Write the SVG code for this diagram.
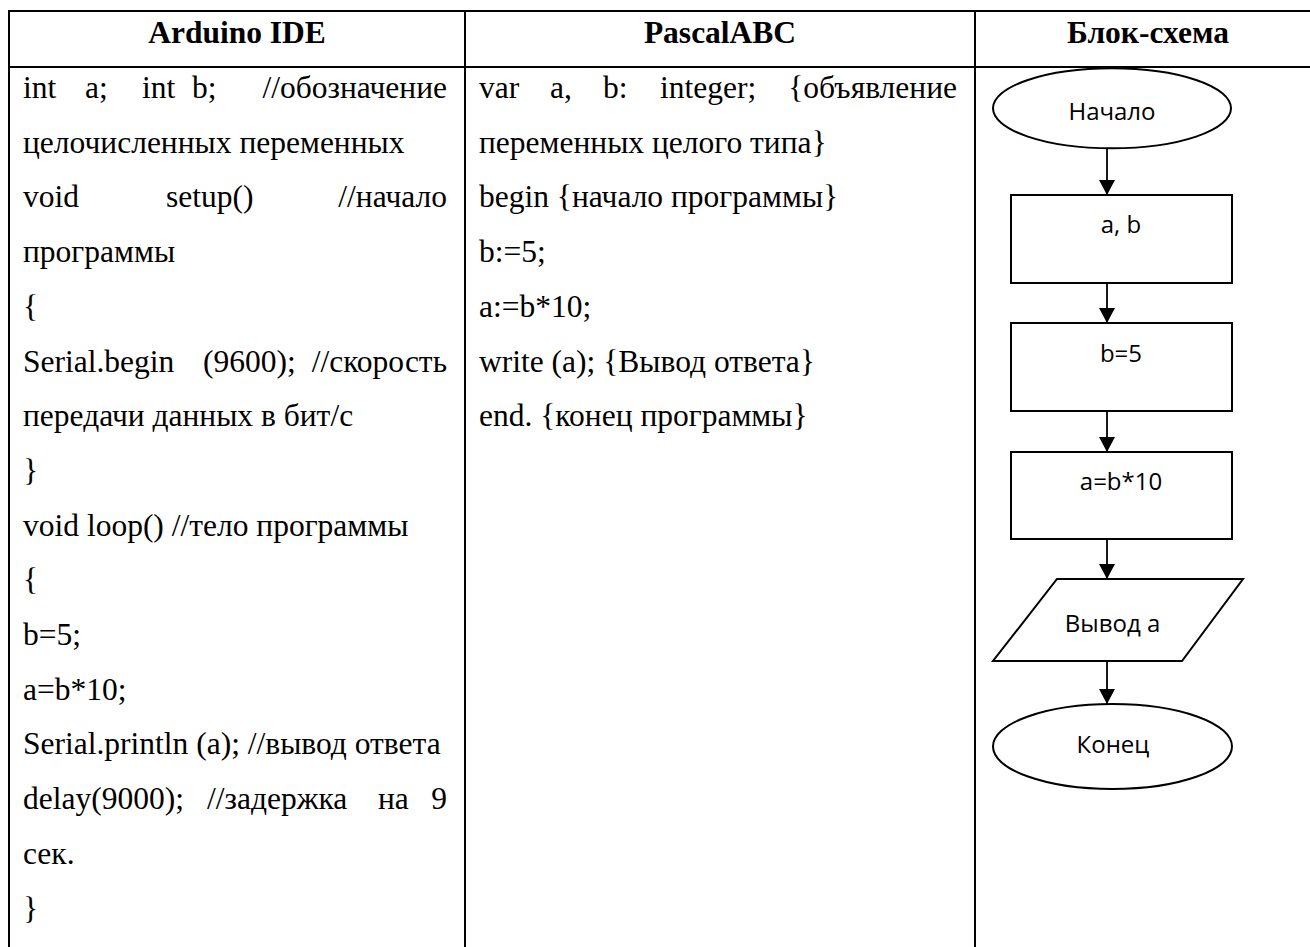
<svg xmlns="http://www.w3.org/2000/svg" width="1310" height="947" viewBox="0 0 1310 947">
<style>
.grid{stroke:#000;stroke-width:2;fill:none}
.code{font-family:"Liberation Serif","Times New Roman",serif;font-size:31.5px;fill:#000}
.head{font-family:"Liberation Serif","Times New Roman",serif;font-size:31.5px;font-weight:bold;fill:#000;text-anchor:middle}
.shape{fill:#fff;stroke:#000;stroke-width:2}
.lbl{font-family:"Open Sans","Noto Sans",sans-serif;font-size:24px;fill:#000;text-anchor:middle}
.conn{stroke:#000;stroke-width:1.8;fill:none;marker-end:url(#ah)}
.e{text-anchor:end}
</style>
<defs>
<marker id="ah" markerUnits="userSpaceOnUse" markerWidth="18" markerHeight="16" refX="15" refY="8" orient="auto">
<path d="M0,0 L15,8 L0,16 Z" fill="#000"/>
</marker>
</defs>
<rect width="1310" height="947" fill="#fff"/>
<g id="table">
<line class="grid" x1="9" y1="11" x2="1310" y2="11"/>
<line class="grid" x1="9" y1="67" x2="1310" y2="67"/>
<line class="grid" x1="9" y1="10" x2="9" y2="947"/>
<line class="grid" x1="465" y1="10" x2="465" y2="947"/>
<line class="grid" x1="975" y1="10" x2="975" y2="947"/>
<text class="head" x="237" y="43">Arduino IDE</text>
<text class="head" x="720" y="43">PascalABC</text>
<text class="head" x="1148" y="43">Блок-схема</text>
</g>
<g id="arduino-code" class="code">
<text y="98"><tspan x="23">int</tspan><tspan x="85">a;</tspan><tspan x="142">int</tspan><tspan x="192">b;</tspan></text>
<text class="e" x="447" y="98">//обозначение</text>
<text x="23" y="152.7">целочисленных переменных</text>
<text y="207.4"><tspan x="23">void</tspan><tspan x="166">setup()</tspan></text>
<text class="e" x="447" y="207.4">//начало</text>
<text x="23" y="262.1">программы</text>
<text x="23" y="316.8">{</text>
<text y="371.5"><tspan x="23">Serial.begin</tspan><tspan x="203">(9600);</tspan></text>
<text class="e" x="447" y="371.5">//скорость</text>
<text x="23" y="426.2">передачи данных в бит/с</text>
<text x="23" y="480.9">}</text>
<text x="23" y="535.6">void loop() //тело программы</text>
<text x="23" y="590.3">{</text>
<text x="23" y="645">b=5;</text>
<text x="23" y="699.7">a=b*10;</text>
<text x="23" y="754.4">Serial.println (a); //вывод ответа</text>
<text y="809.1"><tspan x="23">delay(9000);</tspan><tspan x="207">//задержка</tspan><tspan x="378">на</tspan></text>
<text class="e" x="447" y="809.1">9</text>
<text x="23" y="863.8">сек.</text>
<text x="23" y="918.5">}</text>
</g>
<g id="pascal-code" class="code">
<text y="98"><tspan x="479">var</tspan><tspan x="550">a,</tspan><tspan x="603">b:</tspan><tspan x="660">integer;</tspan></text>
<text class="e" x="957" y="98">{объявление</text>
<text x="479" y="152.7">переменных целого типа}</text>
<text x="479" y="207.4">begin {начало программы}</text>
<text x="479" y="262.1">b:=5;</text>
<text x="479" y="316.8">a:=b*10;</text>
<text x="479" y="371.5">write (a); {Вывод ответа}</text>
<text x="479" y="426.2">end. {конец программы}</text>
</g>
<g id="connectors">
<line class="conn" x1="1107" y1="148" x2="1107" y2="195"/>
<line class="conn" x1="1107" y1="283" x2="1107" y2="323"/>
<line class="conn" x1="1107" y1="411" x2="1107" y2="452"/>
<line class="conn" x1="1107" y1="539" x2="1107" y2="579"/>
<line class="conn" x1="1107" y1="662" x2="1107" y2="704"/>
</g>
<g id="start">
<ellipse class="shape" cx="1112" cy="108.3" rx="119" ry="40"/>
<text class="lbl" x="1112" y="120">Начало</text>
</g>
<g id="input-ab">
<rect class="shape" x="1011" y="195" width="221" height="88"/>
<text class="lbl" x="1121" y="233">a, b</text>
</g>
<g id="assign-b">
<rect class="shape" x="1011" y="323" width="221" height="88"/>
<text class="lbl" x="1121" y="361.5">b=5</text>
</g>
<g id="assign-a">
<rect class="shape" x="1011" y="452" width="221" height="87"/>
<text class="lbl" x="1121" y="490">a=b*10</text>
</g>
<g id="output-a">
<polygon class="shape" points="1057,579 1243,579 1182,661 993,661"/>
<text class="lbl" x="1112.5" y="631.5">Вывод а</text>
</g>
<g id="end">
<ellipse class="shape" cx="1112.5" cy="746.5" rx="119.5" ry="42.5"/>
<text class="lbl" x="1113" y="752.5">Конец</text>
</g>
</svg>
